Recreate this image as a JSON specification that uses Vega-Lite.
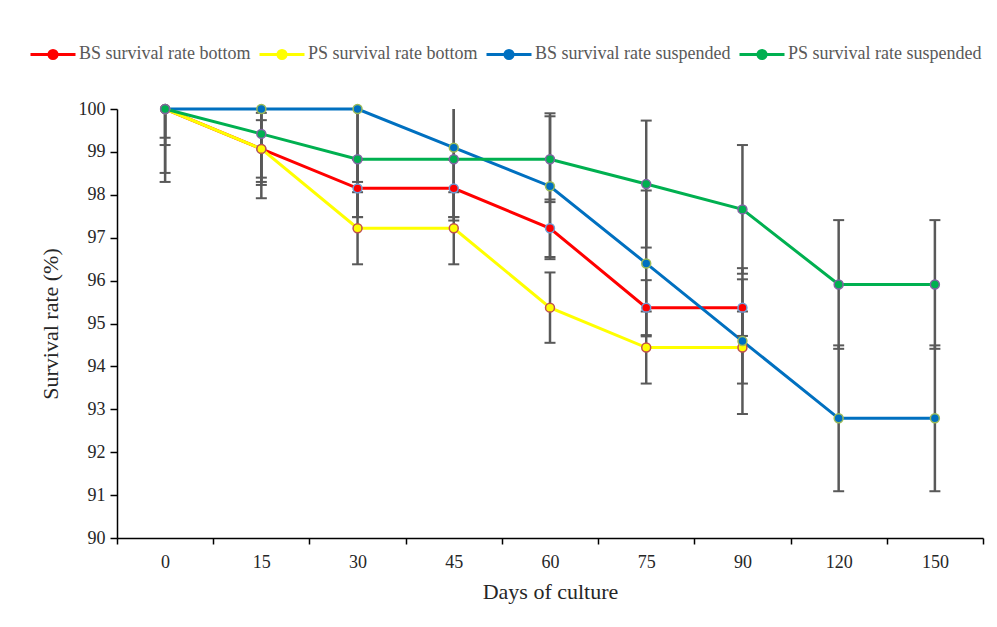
{
  "$schema": "https://vega.github.io/schema/vega-lite/v6.json",
  "width": 866,
  "height": 429,
  "autosize": "none",
  "padding": {"left": 117, "top": 109, "right": 14, "bottom": 89},
  "background": "white",
  "config": {
    "font": "Liberation Serif",
    "view": {"stroke": null},
    "axisX": {
      "domainColor": "#000000", "domainWidth": 1.5, "tickColor": "#000000", "tickWidth": 1.5, "tickSize": 6,
      "tickBand": "extent", "labelAngle": 0, "labelFontSize": 18, "labelColor": "#262626", "labelPadding": 9,
      "titleFontSize": 22, "titleFontWeight": "normal", "titleColor": "#262626", "titlePadding": 10, "grid": false
    },
    "axisY": {
      "domainColor": "#000000", "domainWidth": 1.5, "tickColor": "#000000", "tickWidth": 1.5, "tickSize": 7,
      "labelFontSize": 18, "labelColor": "#262626", "labelPadding": 5,
      "titleFontSize": 22, "titleFontWeight": "normal", "titleColor": "#262626", "titlePadding": 16, "grid": false
    },
    "legend": {
      "orient": "none", "legendX": -88, "legendY": -79, "direction": "horizontal",
      "labelFontSize": 18, "labelFont": "Liberation Serif", "labelColor": "#595959", "labelLimit": 0,
      "columnPadding": 2, "labelOffset": 2, "symbolStrokeWidth": 3, "symbolSize": 2025,
      "symbolType": "M-1,0L-0.18,0M0.18,0L1,0M0.18,0A0.18,0.18,0,1,1,-0.18,0A0.18,0.18,0,1,1,0.18,0Z"
    }
  },
  "data": {
    "values": [
      {"day": "0", "series": "BS survival rate bottom", "v": 100, "lo": 99.33, "hi": 100.67},
      {"day": "15", "series": "BS survival rate bottom", "v": 99.07, "lo": 98.40, "hi": 99.74},
      {"day": "30", "series": "BS survival rate bottom", "v": 98.15, "lo": 97.48, "hi": 98.82},
      {"day": "45", "series": "BS survival rate bottom", "v": 98.15, "lo": 97.48, "hi": 98.82},
      {"day": "60", "series": "BS survival rate bottom", "v": 97.22, "lo": 96.55, "hi": 97.89},
      {"day": "75", "series": "BS survival rate bottom", "v": 95.37, "lo": 94.73, "hi": 96.01},
      {"day": "90", "series": "BS survival rate bottom", "v": 95.37, "lo": 94.71, "hi": 96.03},
      {"day": "0", "series": "PS survival rate bottom", "v": 100, "lo": 99.16, "hi": 100.84},
      {"day": "15", "series": "PS survival rate bottom", "v": 99.07, "lo": 98.23, "hi": 99.91},
      {"day": "30", "series": "PS survival rate bottom", "v": 97.22, "lo": 96.38, "hi": 98.06},
      {"day": "45", "series": "PS survival rate bottom", "v": 97.22, "lo": 96.38, "hi": 98.06},
      {"day": "60", "series": "PS survival rate bottom", "v": 95.37, "lo": 94.55, "hi": 96.19},
      {"day": "75", "series": "PS survival rate bottom", "v": 94.44, "lo": 93.60, "hi": 95.28},
      {"day": "90", "series": "PS survival rate bottom", "v": 94.44, "lo": 93.60, "hi": 95.28},
      {"day": "0", "series": "BS survival rate suspended", "v": 100, "lo": 98.30, "hi": 101.70},
      {"day": "15", "series": "BS survival rate suspended", "v": 100, "lo": 98.30, "hi": 101.70},
      {"day": "30", "series": "BS survival rate suspended", "v": 100, "lo": 98.30, "hi": 101.70},
      {"day": "45", "series": "BS survival rate suspended", "v": 99.10, "lo": 97.40, "hi": 100.80},
      {"day": "60", "series": "BS survival rate suspended", "v": 98.20, "lo": 96.50, "hi": 99.90},
      {"day": "75", "series": "BS survival rate suspended", "v": 96.40, "lo": 94.70, "hi": 98.10},
      {"day": "90", "series": "BS survival rate suspended", "v": 94.59, "lo": 92.89, "hi": 96.29},
      {"day": "120", "series": "BS survival rate suspended", "v": 92.79, "lo": 91.09, "hi": 94.49},
      {"day": "150", "series": "BS survival rate suspended", "v": 92.79, "lo": 91.09, "hi": 94.49},
      {"day": "0", "series": "PS survival rate suspended", "v": 100, "lo": 98.51, "hi": 101.49},
      {"day": "15", "series": "PS survival rate suspended", "v": 99.42, "lo": 97.92, "hi": 100.92},
      {"day": "30", "series": "PS survival rate suspended", "v": 98.83, "lo": 97.48, "hi": 100.18},
      {"day": "45", "series": "PS survival rate suspended", "v": 98.83, "lo": 97.48, "hi": 100.18},
      {"day": "60", "series": "PS survival rate suspended", "v": 98.83, "lo": 97.83, "hi": 99.83},
      {"day": "75", "series": "PS survival rate suspended", "v": 98.25, "lo": 96.77, "hi": 99.73},
      {"day": "90", "series": "PS survival rate suspended", "v": 97.66, "lo": 96.16, "hi": 99.16},
      {"day": "120", "series": "PS survival rate suspended", "v": 95.91, "lo": 94.41, "hi": 97.41},
      {"day": "150", "series": "PS survival rate suspended", "v": 95.91, "lo": 94.41, "hi": 97.41}
    ]
  },
  "encoding": {
    "x": {
      "field": "day", "type": "ordinal", "title": "Days of culture",
      "sort": ["0", "15", "30", "45", "60", "75", "90", "120", "150"],
      "scale": {"paddingInner": 0, "paddingOuter": 0}
    }
  },
  "layer": [
    {
      "mark": {"type": "line", "strokeWidth": 3},
      "encoding": {
        "y": {"field": "v", "type": "quantitative", "title": "Survival rate (%)",
              "scale": {"domain": [90, 100], "nice": false, "zero": false},
              "axis": {"values": [90, 91, 92, 93, 94, 95, 96, 97, 98, 99, 100]}},
        "color": {
          "field": "series", "type": "nominal",
          "scale": {
            "domain": ["BS survival rate bottom", "PS survival rate bottom", "BS survival rate suspended", "PS survival rate suspended"],
            "range": ["#FF0000", "#FFFF00", "#0070C0", "#00B050"]
          },
          "legend": {
            "title": null,
            "encode": {"symbols": {"update": {"fill": {"scale": "color", "field": "value"}, "stroke": {"scale": "color", "field": "value"}}}}
          }
        }
      }
    },
    {
      "mark": {"type": "rule", "color": "#595959", "strokeWidth": 2.5, "clip": true},
      "encoding": {
        "y": {"field": "lo", "type": "quantitative", "title": "Survival rate (%)"},
        "y2": {"field": "hi"}
      }
    },
    {
      "mark": {"type": "tick", "color": "#595959", "size": 11, "thickness": 2, "clip": true, "opacity": 1},
      "encoding": {"y": {"field": "lo", "type": "quantitative", "title": "Survival rate (%)"}}
    },
    {
      "mark": {"type": "tick", "color": "#595959", "size": 11, "thickness": 2, "clip": true, "opacity": 1},
      "encoding": {"y": {"field": "hi", "type": "quantitative", "title": "Survival rate (%)"}}
    },
    {
      "mark": {"type": "point", "filled": true, "size": 80, "strokeWidth": 1.5, "opacity": 1, "shape": "circle"},
      "encoding": {
        "y": {"field": "v", "type": "quantitative", "title": "Survival rate (%)"},
        "color": {"field": "series", "type": "nominal"},
        "stroke": {
          "field": "series", "type": "nominal", "legend": null,
          "scale": {
            "domain": ["BS survival rate bottom", "PS survival rate bottom", "BS survival rate suspended", "PS survival rate suspended"],
            "range": ["#6F9FD8", "#C0504D", "#9BBB59", "#8064A2"]
          }
        }
      }
    }
  ]
}
